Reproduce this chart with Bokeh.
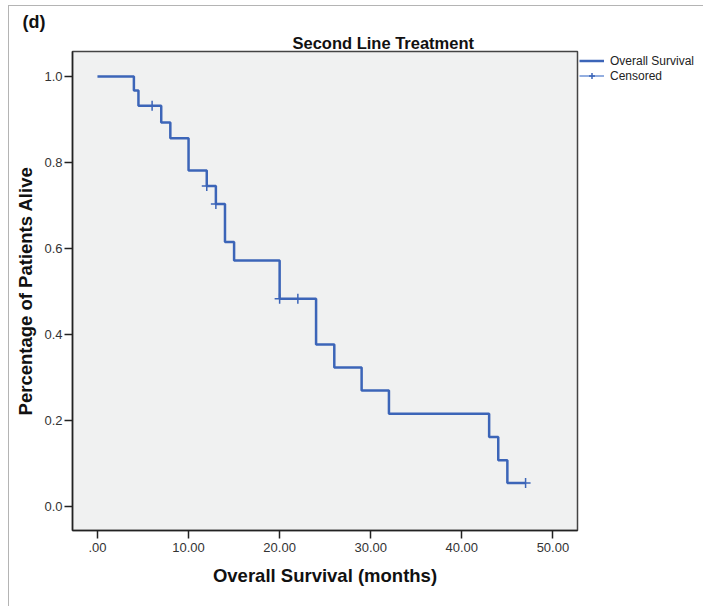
from bokeh.plotting import figure
from bokeh.models import Range1d, FixedTicker, Legend, LegendItem, Title
from bokeh.embed import file_html
from bokeh.resources import INLINE

# Kaplan-Meier step curve (time in months, survival proportion)
times = [0, 4, 4.5, 7, 8, 10, 12, 13, 14, 15, 20, 24, 26, 29, 32, 43, 44, 45, 47]
survival = [1.0, 0.967, 0.932, 0.893, 0.856, 0.781, 0.745, 0.703, 0.615, 0.572,
            0.483, 0.376, 0.323, 0.269, 0.215, 0.161, 0.107, 0.054, 0.054]

# Censored observations
censor_times = [6, 12, 13, 20, 22, 47]
censor_surv = [0.932, 0.745, 0.703, 0.483, 0.483, 0.054]

x_ticks = [0, 10, 20, 30, 40, 50]
x_tick_labels = [".00", "10.00", "20.00", "30.00", "40.00", "50.00"]
y_ticks = [0.0, 0.2, 0.4, 0.6, 0.8, 1.0]
y_tick_labels = ["0.0", "0.2", "0.4", "0.6", "0.8", "1.0"]

FONT = "Liberation Sans"
BLUE = "#3c65b8"

p = figure(title=None, frame_width=505, frame_height=479,
           x_range=Range1d(-2.74, 52.7), y_range=Range1d(-0.0565, 1.058),
           min_border_left=63, min_border_right=0, min_border_top=41, min_border_bottom=76,
           output_backend="svg", toolbar_location=None)

p.styles = {"margin-left": "8px", "margin-top": "5px", "padding-top": "3px",
            "border-top": "1px solid #b4b4b4", "border-left": "1px solid #b4b4b4"}

p.background_fill_color = "#f0f1f1"
p.border_fill_color = "white"
p.outline_line_color = "#444444"
p.outline_line_width = 1.5
p.grid.visible = False

main_title = Title(text="Second Line Treatment", align="left", offset=220,
                   text_font=FONT, text_font_size="16.5px", text_font_style="bold",
                   text_color="#111111", standoff=0)
panel_tag = Title(text="(d)", align="left", offset=-50,
                  text_font=FONT, text_font_size="18px", text_font_style="bold",
                  text_color="#111111", standoff=0)
p.add_layout(main_title, "above")
p.add_layout(panel_tag, "above")

for ax in (p.xaxis[0], p.yaxis[0]):
    ax.axis_line_color = "#222222"
    ax.axis_line_width = 1.5
    ax.major_tick_line_color = "#222222"
    ax.major_tick_line_width = 1.5
    ax.major_tick_out = 8
    ax.major_tick_in = 0
    ax.minor_tick_line_color = None
    ax.major_label_text_font = FONT
    ax.major_label_text_font_size = "13px"
    ax.major_label_text_color = "#333333"
    ax.axis_label_text_font = FONT
    ax.axis_label_text_font_size = "18.5px"
    ax.axis_label_text_font_style = "bold"
    ax.axis_label_text_color = "#111111"

p.xaxis.ticker = FixedTicker(ticks=x_ticks)
p.xaxis.major_label_overrides = {t: l for t, l in zip(x_ticks, x_tick_labels)}
p.yaxis.ticker = FixedTicker(ticks=y_ticks)
p.yaxis.major_label_overrides = {t: l for t, l in zip(y_ticks, y_tick_labels)}
p.xaxis.axis_label = "Overall Survival (months)"
p.yaxis.axis_label = "Percentage of Patients Alive"
p.xaxis.major_label_standoff = 4
p.yaxis.major_label_standoff = 2
p.xaxis.axis_label_standoff = 10
p.yaxis.axis_label_standoff = 5

step_r = p.step(times, survival, mode="after", line_color=BLUE, line_width=2.5)
cens_r = p.scatter(censor_times, censor_surv, marker="cross", size=10,
                   line_color=BLUE, line_width=1.5)
# legend-only line (NaN point, draws nothing in the plot)
leg_line = p.line([float("nan")], [float("nan")], line_color="#6f93d6", line_width=1.5)

legend = Legend(items=[LegendItem(label="Overall Survival", renderers=[step_r]),
                       LegendItem(label="Censored", renderers=[leg_line, cens_r])],
                location="top_left")
legend.border_line_color = None
legend.background_fill_alpha = 0
legend.padding = 0
legend.margin = 2
legend.spacing = 0
legend.glyph_width = 25
legend.glyph_height = 15
legend.label_height = 15
legend.label_standoff = 6
legend.label_text_font = FONT
legend.label_text_font_size = "12px"
legend.label_text_color = "#222222"
p.add_layout(legend, "right")

open("out.html", "w").write(file_html(p, INLINE))
